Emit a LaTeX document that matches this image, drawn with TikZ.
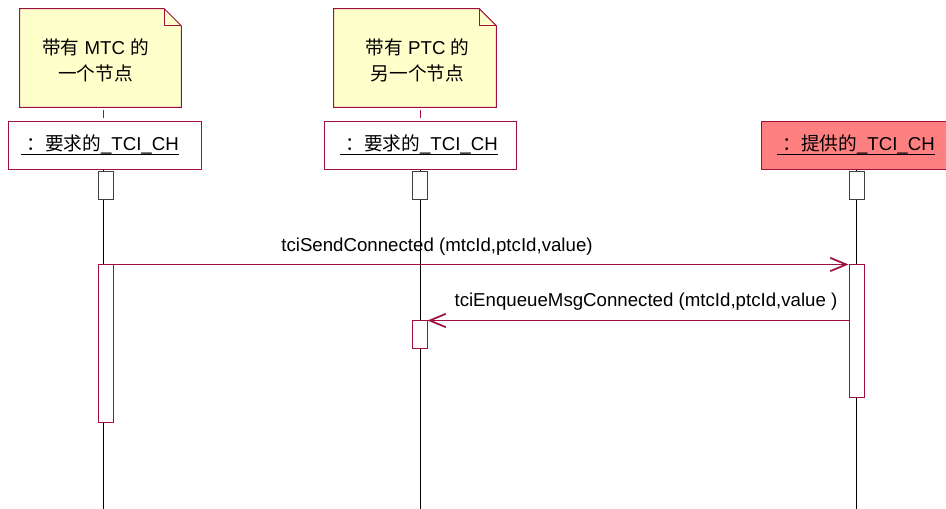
\documentclass[tikz,border=0pt]{standalone}
\usepackage{fontspec}
\setmainfont{Liberation Sans}
\newfontfamily\cjk{Noto Sans CJK SC}
\usetikzlibrary{arrows.meta}
\definecolor{crim}{HTML}{A0103F}
\definecolor{notefill}{HTML}{FFFFCC}
\definecolor{redfill}{HTML}{FF8080}
\definecolor{headgray}{HTML}{404040}
\newcommand{\objul}[1]{\setbox0=\hbox{#1}\rlap{\raisebox{-3pt}{\rule{\wd0}{1pt}}}\box0}
\tikzset{
  txt/.style={font=\fontsize{14}{19.5}\selectfont},
  notebox/.style={rectangle, draw=none, inner sep=0pt, align=center, txt,
    minimum width=#1*0.75pt, minimum height=98*0.75pt},
  objbox/.style={rectangle, draw=crim, line width=0.75pt, inner sep=0pt, txt,
    minimum width=#1*0.75pt, minimum height=48*0.75pt},
  headbox/.style={rectangle, draw=headgray, fill=white, line width=0.75pt, inner sep=0pt,
    minimum width=15*0.75pt, minimum height=28*0.75pt},
  actbox/.style={rectangle, draw=crim, fill=white, line width=0.75pt, inner sep=0pt,
    minimum width=15*0.75pt, minimum height=#1*0.75pt},
  lifeline/.style={draw=black, line width=0.6pt},
  msg/.style={draw=crim, line width=0.75pt,
    -{Straight Barb[length=12pt,width=10pt,line width=1.3pt]}},
  msglabel/.style={txt, inner sep=0pt},
  objlabel/.style={txt, inner sep=0pt},
}
\newcommand{\dogear}[1]{%
  \fill[notefill] (#1.north west) -- ([xshift=-12.75pt]#1.north east) -- ([yshift=-12.75pt]#1.north east) -- (#1.south east) -- (#1.south west) -- cycle;
  \draw[crim, line width=0.75pt] (#1.north west) -- ([xshift=-12.75pt]#1.north east) -- ([yshift=-12.75pt]#1.north east) -- (#1.south east) -- (#1.south west) -- cycle;
  \draw[crim, line width=0.75pt] ([xshift=-12.75pt]#1.north east) -- ([xshift=-12.75pt,yshift=-12.75pt]#1.north east) -- ([yshift=-12.75pt]#1.north east);
}
\begin{document}
\begin{tikzpicture}[x=0.75pt,y=-0.75pt]
\useasboundingbox (0,0) rectangle (946,509);

% notes
\node[notebox=161] (n1) at (100.5,58) {};
\node[notebox=162] (n2) at (415,58) {};
\dogear{n1}
\dogear{n2}
\node[txt, align=center, inner sep=0pt] (t1) at (95.5,60) {{\cjk 带有} MTC {\cjk 的}\\{\cjk 一个节点}};
\node[txt, align=center, inner sep=0pt] (t2) at (417.5,60) {{\cjk 带有} PTC {\cjk 的}\\{\cjk 另一个节点}};

% lifeline ends
\coordinate (e1) at (103,509);
\coordinate (e2) at (420,509);
\coordinate (e3) at (856,509);

% object boxes
\node[objbox=193, fill=white] (b1) at (104.5,146) {};
\node[objbox=192, fill=white] (b2) at (420,146) {};
\node[objbox=190, fill=redfill] (b3) at (856,146) {};
\node[objlabel] (o1) at (100,145) {\objul{\ {\cjk ：要求的}\_TCI\_CH}};
\node[objlabel] (o2) at (419,145) {\objul{\ {\cjk ：要求的}\_TCI\_CH}};
\node[objlabel] (o3) at (856,145) {\objul{\ {\cjk ：提供的}\_TCI\_CH}};

% note connectors
\draw[crim, line width=0.75pt, shorten <=2.25pt, shorten >=2.25pt] (n1.south -| e1) -- (b1.north -| e1);
\draw[crim, line width=0.75pt, shorten <=2.25pt, shorten >=2.25pt] (n2.south -| e2) -- (b2.north -| e2);

% lifelines
\draw[lifeline] (b1.south -| e1) -- (e1);
\draw[lifeline] (b2.south -| e2) -- (e2);
\draw[lifeline] (b3.south -| e3) -- (e3);

% header boxes
\node[headbox] (h1) at (105.5,186) {};
\node[headbox] (h2) at (419.5,186) {};
\node[headbox] (h3) at (856.5,186) {};

% activations
\node[actbox=158] (a1) at (105.5,344) {};
\node[actbox=28]  (a2) at (419.5,335) {};
\node[actbox=133] (a3) at (856.5,331.5) {};

% messages
\draw[msg] (a1.north east) -- (a3.north west);
\node[msglabel] (l1) at (437,247) {tciSendConnected (mtcId,ptcId,value)};
\draw[msg] (a3.west |- a2.north) -- (a2.north east);
\node[msglabel] (l2) at (646,302) {tciEnqueueMsgConnected (mtcId,ptcId,value )};
\end{tikzpicture}
\end{document}
